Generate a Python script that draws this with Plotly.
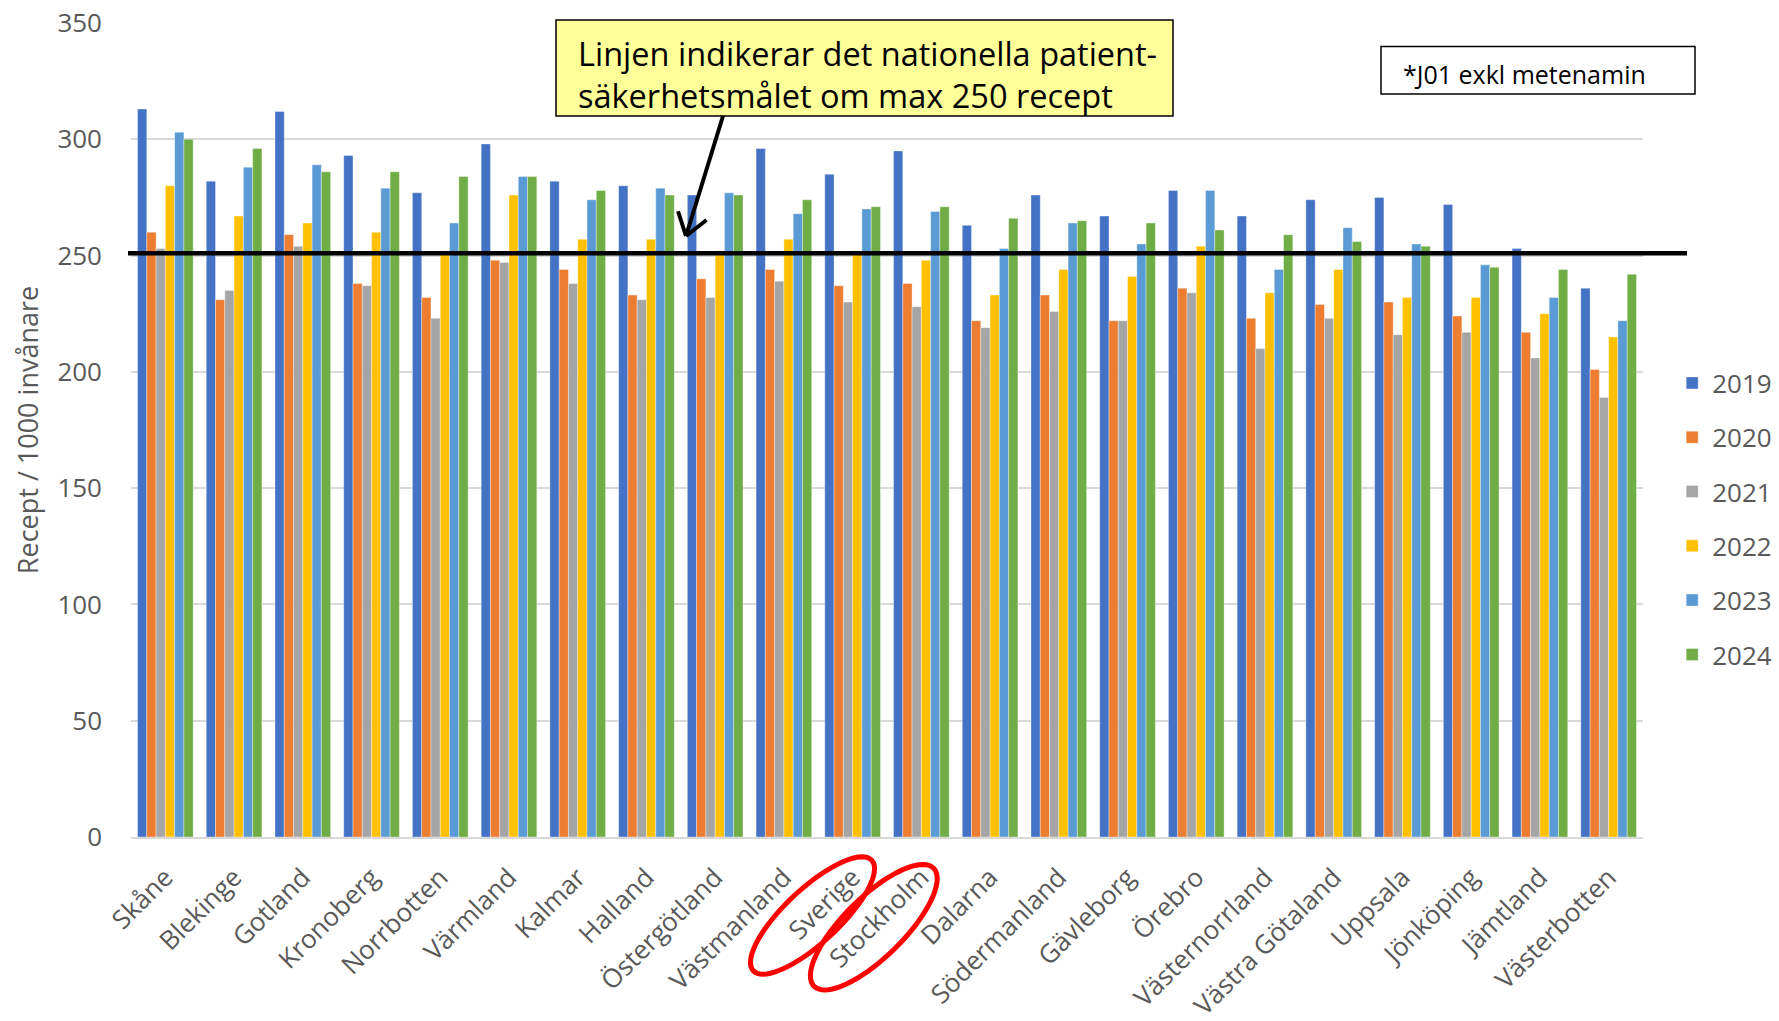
import math
import plotly.graph_objects as go

regions = ["Skåne", "Blekinge", "Gotland", "Kronoberg", "Norrbotten", "Värmland", "Kalmar",
           "Halland", "Östergötland", "Västmanland", "Sverige", "Stockholm", "Dalarna",
           "Södermanland", "Gävleborg", "Örebro", "Västernorrland", "Västra Götaland",
           "Uppsala", "Jönköping", "Jämtland", "Västerbotten"]

years = ["2019", "2020", "2021", "2022", "2023", "2024"]

v2019 = [313, 282, 312, 293, 277, 298, 282, 280, 276, 296, 285, 295, 263, 276, 267, 278, 267, 274, 275, 272, 253, 236]
v2020 = [260, 231, 259, 238, 232, 248, 244, 233, 240, 244, 237, 238, 222, 233, 222, 236, 223, 229, 230, 224, 217, 201]
v2021 = [253, 235, 254, 237, 223, 247, 238, 231, 232, 239, 230, 228, 219, 226, 222, 234, 210, 223, 216, 217, 206, 189]
v2022 = [280, 267, 264, 260, 251, 276, 257, 257, 251, 257, 251, 248, 233, 244, 241, 254, 234, 244, 232, 232, 225, 215]
v2023 = [303, 288, 289, 279, 264, 284, 274, 279, 277, 268, 270, 269, 253, 264, 255, 278, 244, 262, 255, 246, 232, 222]
v2024 = [300, 296, 286, 286, 284, 284, 278, 276, 276, 274, 271, 271, 266, 265, 264, 261, 259, 256, 254, 245, 244, 242]

series = [v2019, v2020, v2021, v2022, v2023, v2024]
colors = ["#4472C4", "#ED7D31", "#A5A5A5", "#FFC000", "#5B9BD5", "#70AD47"]

target = 251
ytick_vals = [0, 50, 100, 150, 200, 250, 300, 350]

W, H = 1779, 1021
L, R, T, B = 131, 136, 23, 184
PW, PH = W - L - R, H - T - B


def px(x):
    return (x - L) / PW


def py(y):
    return (T + PH - y) / PH


fig = go.Figure()
for yr, vals, col in zip(years, series, colors):
    fig.add_trace(go.Bar(
        name=yr, x=regions, y=vals, marker_color=col,
        marker_line=dict(width=0.6, color="rgba(255,255,255,0.6)"),
        legendgroup=yr,
    ))

shapes = []
# target line
shapes.append(dict(type="line", xref="paper", yref="y", x0=px(128), x1=px(1687),
                   y0=target, y1=target, line=dict(color="black", width=4.5)))

# yellow note box
shapes.append(dict(type="rect", xref="paper", yref="paper",
                   x0=px(556), x1=px(1173), y0=py(20), y1=py(116),
                   fillcolor="#FFFF99", line=dict(color="black", width=1.5), layer="above"))
# J01 box
shapes.append(dict(type="rect", xref="paper", yref="paper",
                   x0=px(1381), x1=px(1695), y0=py(46.5), y1=py(94),
                   fillcolor="#FFFFFF", line=dict(color="black", width=1.5), layer="above"))

# arrow from box to line
tail = (723, 116)
head = (686, 236)
shapes.append(dict(type="line", xref="paper", yref="paper",
                   x0=px(tail[0]), y0=py(tail[1]), x1=px(head[0]), y1=py(head[1]),
                   line=dict(color="black", width=4)))
dx, dy = tail[0] - head[0], tail[1] - head[1]
ln = math.hypot(dx, dy)
ux, uy = dx / ln, dy / ln
for ang in (35, -35):
    a = math.radians(ang)
    wx = ux * math.cos(a) - uy * math.sin(a)
    wy = ux * math.sin(a) + uy * math.cos(a)
    shapes.append(dict(type="line", xref="paper", yref="paper",
                       x0=px(head[0]), y0=py(head[1]),
                       x1=px(head[0] + 26 * wx), y1=py(head[1] + 26 * wy),
                       line=dict(color="black", width=4)))


def ellipse_path(cx, cy, a, b, deg):
    th = math.radians(deg)
    pts = []
    for i in range(73):
        t = 2 * math.pi * i / 72
        ex, ey = a * math.cos(t), b * math.sin(t)
        x = cx + ex * math.cos(th) + ey * math.sin(th)
        y = cy - ex * math.sin(th) + ey * math.cos(th)
        pts.append((px(x), py(y)))
    return "M " + " L ".join(f"{x:.5f},{y:.5f}" for x, y in pts) + " Z"


shapes.append(dict(type="path", xref="paper", yref="paper",
                   path=ellipse_path(812.5, 915.5, 81, 27, 43),
                   line=dict(color="#FF0000", width=5)))
shapes.append(dict(type="path", xref="paper", yref="paper",
                   path=ellipse_path(873.8, 927.2, 84, 30, 44.6),
                   line=dict(color="#FF0000", width=5)))

annotations = [
    dict(xref="paper", yref="paper", x=px(576), y=py(75), xanchor="left", yanchor="middle",
         text="Linjen indikerar det nationella patient-<br>säkerhetsmålet om max 250 recept",
         showarrow=False, align="left",
         font=dict(family="Open Sans", size=32.5, color="#000000")),
    dict(xref="paper", yref="paper", x=px(1401), y=py(74), xanchor="left", yanchor="middle",
         text="*J01 exkl metenamin", showarrow=False, align="left",
         font=dict(family="Open Sans", size=25, color="#000000")),
]

fig.update_layout(
    width=W, height=H,
    margin=dict(l=L, r=R, t=T, b=B, autoexpand=False),
    paper_bgcolor="white", plot_bgcolor="white",
    barmode="group", bargap=0.19, bargroupgap=0,
    font=dict(family="Open Sans", color="#595959"),
    shapes=shapes, annotations=annotations,
    legend=dict(x=1.0193, y=py(519), xanchor="left", yanchor="middle",
                font=dict(size=26, color="#595959"), tracegroupgap=17.5,
                bgcolor="rgba(0,0,0,0)"),
    showlegend=True,
)
fig.update_xaxes(
    tickangle=-45, tickfont=dict(size=26, color="#595959"),
    showline=True, linecolor="#D9D9D9", linewidth=1.5,
    showgrid=False, ticks="", ticklabelstandoff=13, automargin=False,
)
fig.update_yaxes(
    range=[0, 350], tickvals=ytick_vals, showgrid=True, gridcolor="#D9D9D9", gridwidth=1.5,
    zeroline=False, showline=False, ticks="",
    tickfont=dict(size=26, color="#595959"), ticklabelstandoff=28,
    title=dict(text="Recept / 1000 invånare", font=dict(size=27, color="#595959"), standoff=10),
    automargin=False,
)

fig.write_html("out.html", config={"displayModeBar": False},
               post_script="document.body.style.margin='0';document.body.style.padding='0';")
